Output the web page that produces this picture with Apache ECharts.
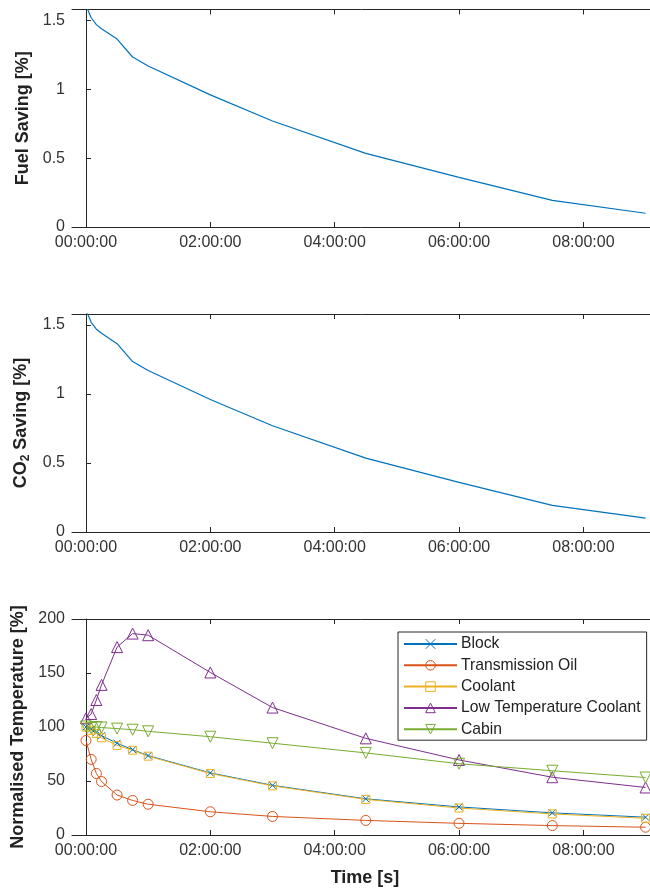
<!DOCTYPE html>
<html><head><meta charset="utf-8">
<script src="https://cdn.jsdelivr.net/npm/echarts@6/dist/echarts.min.js"></script>
<style>html,body{margin:0;padding:0;background:#fff}#c{width:650px;height:888px}</style>
</head><body><div id="c"></div>
<script>
// time in hours
const timeHours = [0, 0.0833, 0.1667, 0.25, 0.5, 0.75, 1, 2, 3, 4.5, 6, 7.5, 9];
const fuelSaving = [1.61, 1.52, 1.47, 1.44, 1.365, 1.235, 1.17, 0.96, 0.77, 0.535, 0.36, 0.193, 0.10];
const co2Saving  = [1.61, 1.52, 1.47, 1.44, 1.365, 1.235, 1.17, 0.96, 0.77, 0.535, 0.36, 0.193, 0.10];
const blockTemp        = [100, 98, 95, 92, 85, 79, 73.5, 57.5, 46, 33.5, 26, 20.5, 16.5];
const transmissionTemp = [87.5, 70, 57, 49.5, 37, 32, 28.5, 21.5, 17.2, 13.5, 10.8, 8.7, 7.2];
const coolantTemp      = [100, 97, 94, 90, 83, 78.5, 73, 57, 45.5, 33, 25, 19.5, 15.5];
const lowTempCoolant   = [108, 112, 125, 139, 174, 186.5, 185, 150.5, 118, 89.5, 69.5, 53.5, 44];
const cabinTemp        = [100.5, 99, 100, 99.5, 98.5, 97.5, 96, 91, 85, 76, 66, 59.5, 53.2];
const xTickHours = [0, 2, 4, 6, 8];
const savingTicks = [0, 0.5, 1, 1.5];
const tempTicks = [0, 50, 100, 150, 200];

const pairs = v => timeHours.map((t, i) => [t, v[i]]);
const fmtTime = h => String(h).padStart(2, '0') + ':00:00';

const AX = '#262626', TXT = '#333';
const FONT = '"Liberation Sans", Arial, sans-serif';
const X_MIN = -0.225, X_MAX = 9.2;

function xAxes(gi, showName) {
  const base = {
    type: 'value', gridIndex: gi, min: X_MIN, max: X_MAX,
    axisLine: { lineStyle: { color: AX, width: 1 } },
    axisTick: { inside: true, length: 5, lineStyle: { color: AX }, customValues: xTickHours },
    splitLine: { show: false }
  };
  return [
    Object.assign({}, base, {
      position: 'bottom',
      axisLabel: { customValues: xTickHours, formatter: fmtTime, color: TXT, fontSize: 16, fontFamily: FONT, margin: 8 },
      name: showName ? 'Time [s]' : '', nameLocation: 'middle', nameGap: 34,
      nameTextStyle: { fontSize: 18, fontWeight: 'bold', color: '#222', fontFamily: FONT }
    }),
    Object.assign({}, base, { position: 'top', axisLabel: { show: false } })
  ];
}
function yAxis(gi, max, ticks, name, rich) {
  return {
    type: 'value', gridIndex: gi, min: 0, max: max, position: 'left',
    axisLine: { show: true, lineStyle: { color: AX, width: 1 } },
    axisTick: { show: true, inside: true, length: 5, lineStyle: { color: AX }, customValues: ticks },
    axisLabel: { customValues: ticks, color: TXT, fontSize: 16, fontFamily: FONT, margin: 7 },
    splitLine: { show: false },
    name: name, nameLocation: 'middle', nameGap: 38, nameRotate: 90,
    nameTextStyle: Object.assign({ fontSize: 18, fontWeight: 'bold', color: '#222', fontFamily: FONT }, rich ? { rich: rich } : {})
  };
}

const colors = { block: '#0072BD', trans: '#D95319', cool: '#EDB120', ltc: '#7E2F8E', cabin: '#77AC30' };
const CLEAR = 'rgba(255,255,255,0)';
function markerSeries(name, data, color, symbol, size) {
  return {
    name: name, type: 'line', xAxisIndex: 4, yAxisIndex: 2, data: pairs(data),
    symbol: symbol, symbolSize: size, showSymbol: true,
    lineStyle: { color: color, width: 1 },
    itemStyle: { color: CLEAR, borderColor: color, borderWidth: 1 },
    emphasis: { disabled: true }, animation: false, z: 3
  };
}
const legendNames = ['Block', 'Transmission Oil', 'Coolant', 'Low Temperature Coolant', 'Cabin'];
const legendColors = [colors.block, colors.trans, colors.cool, colors.ltc, colors.cabin];

const subRich = {
  a: { fontSize: 18, fontWeight: 'bold', color: '#222', fontFamily: FONT },
  s: { fontSize: 12, fontWeight: 'bold', color: '#222', fontFamily: FONT, padding: [10, 0, 0, 0] }
};

const option = {
  animation: false,
  backgroundColor: '#fff',
  grid: [
    { left: 72, width: 586, top: 9.5, height: 217.5, outerBoundsMode: 'none' },
    { left: 72, width: 586, top: 314, height: 218, outerBoundsMode: 'none' },
    { left: 72, width: 586, top: 619, height: 216, outerBoundsMode: 'none' }
  ],
  xAxis: [].concat(xAxes(0, false), xAxes(1, false), xAxes(2, true)),
  yAxis: [
    yAxis(0, 1.58, savingTicks, 'Fuel Saving [%]'),
    yAxis(1, 1.58, savingTicks, '{a|CO}{s|2}{a| Saving [%]}', subRich),
    yAxis(2, 200, tempTicks, 'Normalised Temperature [%]')
  ],
  legend: {
    orient: 'vertical', left: 398, top: 632,
    itemWidth: 53, itemHeight: 12, itemGap: 5.3,
    padding: [4, 6, 3, 5],
    borderColor: '#262626', borderWidth: 1, backgroundColor: '#fff',
    textStyle: { fontSize: 15.7, color: '#222', fontFamily: FONT, padding: [0, 0, 0, -1] },
    data: legendNames.map((n, i) => ({
      name: n,
      itemStyle: { color: CLEAR, borderColor: legendColors[i], borderWidth: 1 }
    }))
  },
  series: [
    { type: 'line', xAxisIndex: 0, yAxisIndex: 0, data: pairs(fuelSaving), showSymbol: false, symbol: 'none',
      lineStyle: { color: '#0072BD', width: 1.2 }, clip: true },
    { type: 'line', xAxisIndex: 2, yAxisIndex: 1, data: pairs(co2Saving), showSymbol: false, symbol: 'none',
      lineStyle: { color: '#0072BD', width: 1.2 }, clip: true },
    markerSeries('Block', blockTemp, colors.block, 'path://M0,0L10,10M10,0L0,10', 7),
    markerSeries('Transmission Oil', transmissionTemp, colors.trans, 'circle', 10),
    markerSeries('Coolant', coolantTemp, colors.cool, 'rect', 8),
    markerSeries('Low Temperature Coolant', lowTempCoolant, colors.ltc, 'triangle', 11),
    markerSeries('Cabin', cabinTemp, colors.cabin, 'path://M0,0L10,0L5,9Z', 11)
  ]
};
const chart = echarts.init(document.getElementById('c'), null, { renderer: 'canvas' });
chart.setOption(option);
</script>
</body></html>
